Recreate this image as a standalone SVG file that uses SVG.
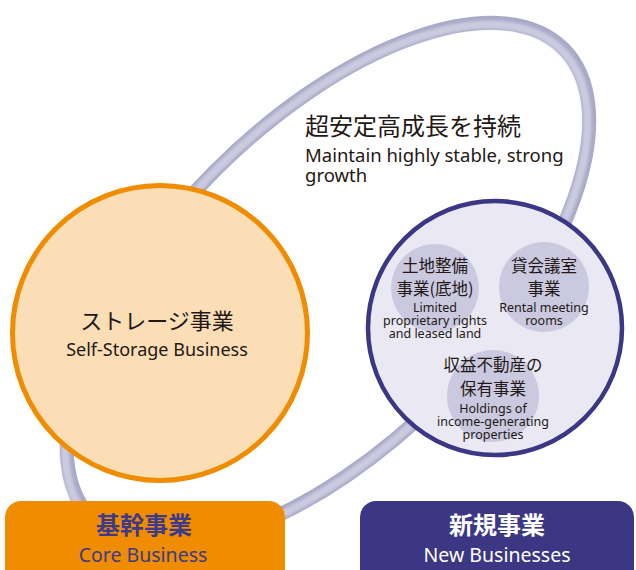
<svg xmlns="http://www.w3.org/2000/svg" width="636" height="570" viewBox="0 0 636 570">
  <style>
    .jp { font-family: "Noto Sans CJK JP", "Noto Sans", sans-serif; fill: #231815; text-anchor: middle; }
    .en { font-family: "Noto Sans", "Noto Sans CJK JP", sans-serif; fill: #231815; text-anchor: middle; }
    .left { text-anchor: start; }
    .sub-jp { font-size: 16.5px; }
    .sub-en { font-size: 12.5px; }
    .sub-circle { fill: #cac9e0; }
    .label-jp { font-size: 24px; font-weight: bold; }
    .label-en { font-size: 19.5px; }
  </style>
  <defs>
    <filter id="soft" x="-10%" y="-10%" width="120%" height="120%">
      <feGaussianBlur stdDeviation="1.6"/>
    </filter>
  </defs>

  <!-- growth ring drawn as a shaded tube -->
  <g id="connectors">
    <g transform="rotate(-45 328 284)">
      <ellipse cx="328" cy="284" rx="333" ry="160" fill="none" stroke="#a9a9c8" stroke-width="14"/>
      <ellipse cx="328" cy="284" rx="333" ry="160" fill="none" stroke="#cbcbe0" stroke-width="8" transform="translate(-2.5 0)" filter="url(#soft)"/>
    </g>
  </g>

  <!-- heading -->
  <g id="slogan">
    <text class="jp left" x="305" y="135" font-size="24">超安定高成長を持続</text>
    <text class="en left" x="305" y="162" font-size="18.5">Maintain highly stable, strong</text>
    <text class="en left" x="305" y="182" font-size="18.5">growth</text>
  </g>

  <!-- core: self-storage -->
  <g id="self-storage">
    <circle cx="160" cy="333" r="147.5" fill="#fbdeb6" stroke="#f08c00" stroke-width="5"/>
    <text class="jp" x="157" y="329" font-size="22">ストレージ事業</text>
    <text class="en" x="157" y="356" font-size="18">Self-Storage Business</text>
  </g>

  <!-- new businesses cluster -->
  <g id="new-business-cluster">
    <circle cx="495" cy="328" r="127" fill="#e9e8f3" stroke="#3b3785" stroke-width="4.5"/>
  </g>

  <g id="land">
    <circle class="sub-circle" cx="435" cy="288" r="44"/>
    <text class="jp sub-jp" x="435" y="272">土地整備</text>
    <text class="jp sub-jp" x="435" y="295">事業(底地)</text>
    <text class="en sub-en" x="435" y="312">Limited</text>
    <text class="en sub-en" x="435" y="325">proprietary rights</text>
    <text class="en sub-en" x="435" y="338">and leased land</text>
  </g>

  <g id="rental-rooms">
    <circle class="sub-circle" cx="544" cy="287" r="45"/>
    <text class="jp sub-jp" x="544" y="272">貸会議室</text>
    <text class="jp sub-jp" x="544" y="295">事業</text>
    <text class="en sub-en" x="544" y="312">Rental meeting</text>
    <text class="en sub-en" x="544" y="325">rooms</text>
  </g>

  <g id="income-properties">
    <circle class="sub-circle" cx="493" cy="396" r="46"/>
    <text class="jp sub-jp" x="493" y="371">収益不動産の</text>
    <text class="jp sub-jp" x="493" y="394.5">保有事業</text>
    <text class="en sub-en" x="493" y="413">Holdings of</text>
    <text class="en sub-en" x="493" y="426">income-generating</text>
    <text class="en sub-en" x="493" y="439">properties</text>
  </g>

  <!-- bottom labels -->
  <g id="core-business">
    <rect x="5" y="501" width="280" height="90" rx="16" fill="#f08c00"/>
    <text class="jp label-jp" x="144" y="534" style="fill:#3d3a8a">基幹事業</text>
    <text class="en label-en" x="143" y="562" style="fill:#3d3a8a">Core Business</text>
  </g>

  <g id="new-businesses">
    <rect x="360" y="501" width="274" height="90" rx="16" fill="#3b3784"/>
    <text class="jp label-jp" x="497" y="534" style="fill:#ffffff">新規事業</text>
    <text class="en label-en" x="497" y="562" style="fill:#ffffff">New Businesses</text>
  </g>
</svg>
